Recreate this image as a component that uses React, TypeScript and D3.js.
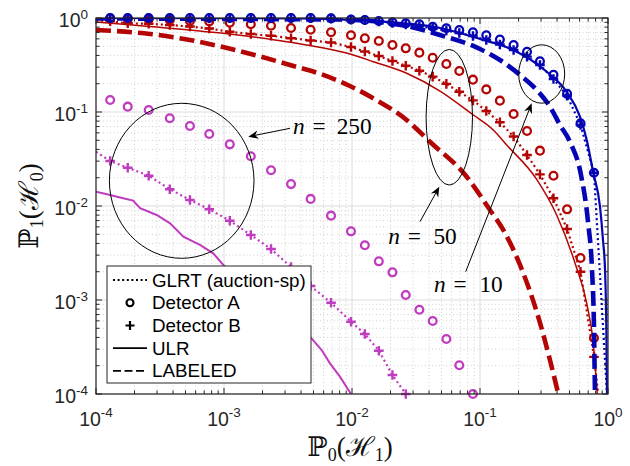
import React from 'react';
import * as d3 from 'd3';

// ---------- data ----------
// P0(H1) positions of the detector markers (shared threshold grid)
const markerP0 = [1.29e-4, 1.77e-4, 2.58e-4, 3.77e-4, 5.42e-4, 7.67e-4, 1.11e-3, 1.62e-3, 2.33e-3, 3.34e-3, 4.75e-3, 6.86e-3, 9.82e-3, 1.26e-2, 1.62e-2, 2.07e-2, 2.63e-2, 3.36e-2, 4.27e-2, 5.46e-2, 6.89e-2, 8.81e-2, 0.112, 0.143, 0.183, 0.233, 0.294, 0.375, 0.479, 0.61, 0.777];

// n = 250
const detA250 = [0.134, 0.114, 0.105, 0.0857, 0.071, 0.0583, 0.0453, 0.0338, 0.024, 0.0171, 0.0119, 0.00789, 0.00538, 0.00382, 0.00258, 0.00197, 0.00113, 7.88e-4, 5.98e-4, 3.85e-4, 2.02e-4, 1.0e-4];
const detB250 = [0.0301, 0.0255, 0.021, 0.0151, 0.0116, 0.00922, 0.00698, 0.00491, 0.00349, 0.00224, 0.00141, 9.36e-4, 5.88e-4, 4.35e-4, 2.89e-4, 1.59e-4, 1.0e-4];
const glrt250Start = [1e-4, 0.0378];
const ulr250P0 = [1e-4, 1.29e-4, 1.63e-4, 1.95e-4, 2.21e-4, 2.98e-4, 3.79e-4, 4.81e-4, 6.49e-4, 8.24e-4, 9.88e-4, 4.7e-3, 5.79e-3, 6.73e-3, 8.05e-3, 9.82e-3];
const ulr250P1 = [0.0142, 0.0131, 0.0121, 0.0114, 0.00946, 0.00802, 0.00654, 0.00471, 0.00385, 0.00314, 0.00236, 4.07e-4, 2.94e-4, 2.12e-4, 1.53e-4, 1.0e-4];

// n = 50
const detA50 = [0.988, 0.976, 0.969, 0.954, 0.929, 0.918, 0.889, 0.859, 0.826, 0.783, 0.749, 0.706, 0.656, 0.608, 0.569, 0.516, 0.476, 0.428, 0.378, 0.324, 0.273, 0.221, 0.174, 0.132, 0.0952, 0.0628, 0.0388, 0.021, 0.00922, 0.0028, 3.94e-4];
const detB50 = [0.922, 0.878, 0.868, 0.842, 0.812, 0.773, 0.713, 0.676, 0.647, 0.61, 0.577, 0.549, 0.491, 0.44, 0.394, 0.349, 0.311, 0.275, 0.238, 0.199, 0.164, 0.133, 0.1025, 0.0777, 0.0549, 0.0349, 0.0217, 0.0121, 0.00569, 0.002, 2.48e-4];
const glrt50Start = [1e-4, 0.941];
const glrt50End = [0.839, 1e-4];
const ulr50P0 = [1e-4, 2.64e-4, 9.87e-4, 3.28e-3, 9.64e-3, 0.01465, 0.02673, 0.0487, 0.0888, 0.127, 0.1617, 0.2773, 0.3971, 0.552, 0.6818, 0.767, 0.824];
const ulr50P1 = [0.907, 0.812, 0.687, 0.551, 0.414, 0.343, 0.258, 0.167, 0.0929, 0.0644, 0.0446, 0.0192, 0.00802, 0.00248, 9.23e-4, 3.46e-4, 1e-4];
const lab50P0 = [1e-4, 2.64e-4, 5.42e-4, 9.82e-4, 1.8e-3, 3.28e-3, 5.97e-3, 9.64e-3, 0.01465, 0.02673, 0.0406, 0.0787, 0.1197, 0.152, 0.2054, 0.2838, 0.4093];
const lab50P1 = [0.745, 0.676, 0.583, 0.491, 0.399, 0.316, 0.248, 0.189, 0.14, 0.0822, 0.0483, 0.0205, 0.00906, 0.00556, 0.00236, 6.76e-4, 1e-4];

// n = 10
const detA10 = [1, 1, 1, 1, 1, 1, 1, 1, 1, 1, 1, 0.99, 0.965, 0.952, 0.929, 0.9, 0.878, 0.857, 0.808, 0.777, 0.745, 0.704, 0.655, 0.589, 0.516, 0.438, 0.346, 0.249, 0.156, 0.0758, 0.0226];
const detB10 = [1, 1, 1, 1, 1, 1, 1, 1, 1, 1, 1, 0.99, 0.965, 0.952, 0.918, 0.885, 0.853, 0.822, 0.773, 0.736, 0.692, 0.643, 0.583, 0.523, 0.457, 0.388, 0.316, 0.2245, 0.149, 0.0728, 0.0226];
const glrt10Start = [1e-4, 1.0];
const glrt10End = [0.982, 1e-4];
const ulr10P0 = [1e-4, 3.93e-3, 8.06e-3, 0.02673, 0.0487, 0.1, 0.182, 0.332, 0.475, 0.604, 0.682, 0.767, 0.866, 0.914, 0.948, 0.971, 0.982];
const ulr10P1 = [1.0, 0.993, 0.964, 0.874, 0.783, 0.598, 0.457, 0.268, 0.164, 0.0891, 0.0504, 0.0226, 0.00983, 0.00435, 0.00209, 4.8e-4, 1e-4];
const lab10P0 = [1e-4, 8.06e-3, 0.02673, 0.0487, 0.1, 0.1432, 0.2054, 0.2773, 0.352, 0.4217, 0.505, 0.615, 0.698, 0.75, 0.777, 0.791];
const lab10P1 = [0.988, 0.964, 0.822, 0.659, 0.468, 0.357, 0.248, 0.1715, 0.114, 0.0727, 0.048, 0.0214, 0.00676, 0.00209, 5.16e-4, 1e-4];

const tickDecades = [-4, -3, -2, -1, 0];
const legendLabels = ['GLRT (auction-sp)', 'Detector A', 'Detector B', 'ULR', 'LABELED'];

// ---------- styling ----------
const BLUE = '#0505b4';
const RED = '#b40505';
const PURPLE = '#bf3cbf';
const AX = '#262626';

const PL = 96, PR = 608, PT = 18, PB = 394;

const x = d3.scaleLog().domain([1e-4, 1]).range([PL, PR]);
const y = d3.scaleLog().domain([1e-4, 1]).range([PB, PT]);

type Pt = [number, number];
const zip = (xs: number[], ys: number[]): Pt[] => ys.map((v, i) => [xs[i], v] as Pt);

const smooth = d3.line<Pt>().x(d => x(d[0])).y(d => y(d[1])).curve(d3.curveMonotoneX);
const straight = d3.line<Pt>().x(d => x(d[0])).y(d => y(d[1]));

function Circles({ pts, color }: { pts: Pt[]; color: string }) {
  return (
    <g>
      {pts.map((p, i) => (
        <circle key={i} cx={x(p[0])} cy={y(p[1])} r={3.9} fill="none" stroke={color} strokeWidth={2.3} />
      ))}
    </g>
  );
}

function Pluses({ pts, color }: { pts: Pt[]; color: string }) {
  const s = 4.8;
  return (
    <g>
      {pts.map((p, i) => {
        const cx = x(p[0]), cy = y(p[1]);
        return <path key={i} d={`M${cx - s},${cy}H${cx + s}M${cx},${cy - s}V${cy + s}`} stroke={color} strokeWidth={2.4} fill="none" />;
      })}
    </g>
  );
}

function Arrow({ x1, y1, x2, y2 }: { x1: number; y1: number; x2: number; y2: number }) {
  const a = Math.atan2(y2 - y1, x2 - x1);
  const L = 10, Wd = 4.2, N = 7;
  const ux = Math.cos(a), uy = Math.sin(a);
  const px = -uy, py = ux;
  const bx = x2 - ux * L, by = y2 - uy * L;
  const nx = x2 - ux * N, ny = y2 - uy * N;
  const head = `M${x2},${y2}L${bx + px * Wd},${by + py * Wd}L${nx},${ny}L${bx - px * Wd},${by - py * Wd}Z`;
  return (
    <g>
      <line x1={x1} y1={y1} x2={nx} y2={ny} stroke="#000" strokeWidth={1} />
      <path d={head} fill="#000" />
    </g>
  );
}

export default function App() {
  const minor: number[] = [];
  for (let e = -4; e < 0; e++) for (let k = 2; k <= 9; k++) minor.push(k * Math.pow(10, e));
  const majors = tickDecades.map(e => Math.pow(10, e));

  const glrt250 = ([glrt250Start as Pt]).concat(zip(markerP0, detB250));
  const glrt50 = ([glrt50Start as Pt]).concat(zip(markerP0, detB50), [glrt50End as Pt]);
  const glrt10 = ([glrt10Start as Pt]).concat(zip(markerP0, detB10), [glrt10End as Pt]);

  const font = "'Liberation Sans', Arial, Helvetica, sans-serif";
  const mathFont = "'Liberation Serif', 'DejaVu Serif', 'Times New Roman', serif";

  const legRows = [280, 302.7, 325.5, 348.2, 370.8];

  return (
    <div style={{ position: 'absolute', left: 0, top: 0 }}>
      <svg width={630} height={466} viewBox="0 0 630 466" style={{ display: 'block', background: '#fff' }}>
        <defs>
          <clipPath id="plotclip">
            <rect x={PL} y={PT} width={PR - PL} height={PB - PT} />
          </clipPath>
        </defs>
        <rect x={0} y={0} width={630} height={466} fill="#fff" />
        {/* grid */}
        <g>
          {minor.map((v, i) => (
            <line key={'mx' + i} x1={x(v)} x2={x(v)} y1={PT} y2={PB} stroke="#c4c4c4" strokeWidth={0.8} strokeDasharray="1,2.5" />
          ))}
          {minor.map((v, i) => (
            <line key={'my' + i} x1={PL} x2={PR} y1={y(v)} y2={y(v)} stroke="#c4c4c4" strokeWidth={0.8} strokeDasharray="1,2.5" />
          ))}
          {majors.map((v, i) => (
            <line key={'Mx' + i} x1={x(v)} x2={x(v)} y1={PT} y2={PB} stroke="#dcdcdc" strokeWidth={1} />
          ))}
          {majors.map((v, i) => (
            <line key={'My' + i} x1={PL} x2={PR} y1={y(v)} y2={y(v)} stroke="#dcdcdc" strokeWidth={1} />
          ))}
        </g>

        {/* n = 250 (purple) */}
        <g clipPath="url(#plotclip)">
          <path d={straight(zip(ulr250P0, ulr250P1)) || ''} fill="none" stroke={PURPLE} strokeWidth={2} />
          <path d={straight(glrt250) || ''} fill="none" stroke={PURPLE} strokeWidth={2.2} strokeDasharray="2,3" />
        </g>
        <Circles pts={zip(markerP0, detA250)} color={PURPLE} />
        <Pluses pts={zip(markerP0, detB250)} color={PURPLE} />

        {/* n = 50 (red) */}
        <g clipPath="url(#plotclip)">
          <path d={smooth(zip(ulr50P0, ulr50P1)) || ''} fill="none" stroke={RED} strokeWidth={1.5} />
          <path d={smooth(zip(lab50P0, lab50P1)) || ''} fill="none" stroke={RED} strokeWidth={4.6} strokeDasharray="15,6" />
          <path d={straight(glrt50) || ''} fill="none" stroke={RED} strokeWidth={2.2} strokeDasharray="2,3" />
        </g>
        <Circles pts={zip(markerP0, detA50)} color={RED} />
        <Pluses pts={zip(markerP0, detB50)} color={RED} />

        {/* n = 10 (blue) */}
        <g clipPath="url(#plotclip)">
          <path d={smooth(zip(lab10P0, lab10P1)) || ''} fill="none" stroke={BLUE} strokeWidth={4.6} strokeDasharray="15,6" />
          <path d={smooth(zip(ulr10P0, ulr10P1)) || ''} fill="none" stroke={BLUE} strokeWidth={2.2} />
          <path d={straight(glrt10) || ''} fill="none" stroke={BLUE} strokeWidth={2.2} strokeDasharray="2,3" />
        </g>
        <Circles pts={zip(markerP0, detA10)} color={BLUE} />
        <Pluses pts={zip(markerP0, detB10)} color={BLUE} />

        {/* axes box + ticks */}
        <g stroke={AX} fill="none">
          <rect x={PL} y={PT} width={PR - PL} height={PB - PT} strokeWidth={1.2} />
          {majors.map((v, i) => (
            <g key={'tM' + i}>
              <line x1={x(v)} x2={x(v)} y1={PB} y2={PB - 6} />
              <line x1={x(v)} x2={x(v)} y1={PT} y2={PT + 6} />
              <line x1={PL} x2={PL + 6} y1={y(v)} y2={y(v)} />
              <line x1={PR} x2={PR - 6} y1={y(v)} y2={y(v)} />
            </g>
          ))}
          {minor.map((v, i) => (
            <g key={'tm' + i}>
              <line x1={x(v)} x2={x(v)} y1={PB} y2={PB - 3.5} />
              <line x1={x(v)} x2={x(v)} y1={PT} y2={PT + 3.5} />
              <line x1={PL} x2={PL + 3.5} y1={y(v)} y2={y(v)} />
              <line x1={PR} x2={PR - 3.5} y1={y(v)} y2={y(v)} />
            </g>
          ))}
        </g>

        {/* tick labels */}
        <g fontFamily={font} fill={AX}>
          {tickDecades.map((e, i) => (
            <text key={'xl' + i} x={x(Math.pow(10, e))} y={425.5} textAnchor="middle" fontSize={19.5}>
              10<tspan dy={-8.5} fontSize={13.5}>{String(e)}</tspan>
            </text>
          ))}
          {tickDecades.map((e, i) => (
            <text key={'yl' + i} x={88} y={y(Math.pow(10, e)) + 9} textAnchor="end" fontSize={19.5}>
              10<tspan dy={-8.5} fontSize={13.5}>{String(e)}</tspan>
            </text>
          ))}
        </g>

        {/* axis labels */}
        <text x={350} y={456} textAnchor="middle" fontFamily={mathFont} fontSize={27} fill="#111">
          ℙ<tspan dy={5} fontSize={18}>0</tspan><tspan dy={-5}>(ℋ</tspan><tspan dy={5} fontSize={18}>1</tspan><tspan dy={-5}>)</tspan>
        </text>
        <text transform="translate(38,206) rotate(-90)" textAnchor="middle" fontFamily={mathFont} fontSize={27} fill="#111">
          ℙ<tspan dy={5} fontSize={18}>1</tspan><tspan dy={-5}>(ℋ</tspan><tspan dy={5} fontSize={18}>0</tspan><tspan dy={-5}>)</tspan>
        </text>

        {/* annotations */}
        <g fill="none" stroke="#000" strokeWidth={1}>
          <ellipse cx={181.7} cy={180.8} rx={72.3} ry={77.5} />
          <ellipse cx={449.3} cy={117.2} rx={23.2} ry={67.8} />
          <ellipse cx={541.7} cy={74} rx={23} ry={29.2} />
        </g>
        <Arrow x1={290} y1={128.3} x2={248.3} y2={136.7} />
        <Arrow x1={420} y1={221.7} x2={439.3} y2={186.7} />
        <Arrow x1={465.7} y1={271.7} x2={531.7} y2={103.3} />
        <g fontFamily={mathFont} fontSize={23.3} fill="#000">
          <text x={293} y={133.5}><tspan fontStyle="italic">n</tspan><tspan x={312.5}>=</tspan><tspan x={336.7}>250</tspan></text>
          <text x={388.3} y={244}><tspan fontStyle="italic">n</tspan><tspan x={407.8}>=</tspan><tspan x={433.4}>50</tspan></text>
          <text x={434} y={291.7}><tspan fontStyle="italic">n</tspan><tspan x={453.5}>=</tspan><tspan x={479.4}>10</tspan></text>
        </g>

        {/* legend */}
        <g>
          <rect x={107} y={266} width={204} height={117} fill="#fff" stroke={AX} strokeWidth={1} />
          <line x1={113} x2={147} y1={legRows[0]} y2={legRows[0]} stroke="#000" strokeWidth={2} strokeDasharray="2,2.6" />
          <circle cx={130} cy={legRows[1]} r={3.5} fill="none" stroke="#000" strokeWidth={2.1} />
          <path d={`M${125.5},${legRows[2]}H${134.5}M130,${legRows[2] - 4.5}V${legRows[2] + 4.5}`} stroke="#000" strokeWidth={2.2} />
          <line x1={113} x2={147} y1={legRows[3]} y2={legRows[3]} stroke="#000" strokeWidth={1.8} />
          <line x1={113} x2={147} y1={legRows[4]} y2={legRows[4]} stroke="#000" strokeWidth={1.8} strokeDasharray="8,3.5" />
          {legendLabels.map((t, i) => (
            <text key={i} x={152} y={legRows[i] + 6.6} fontFamily={font} fontSize={18.8} fill="#000">{t}</text>
          ))}
        </g>
      </svg>
    </div>
  );
}
